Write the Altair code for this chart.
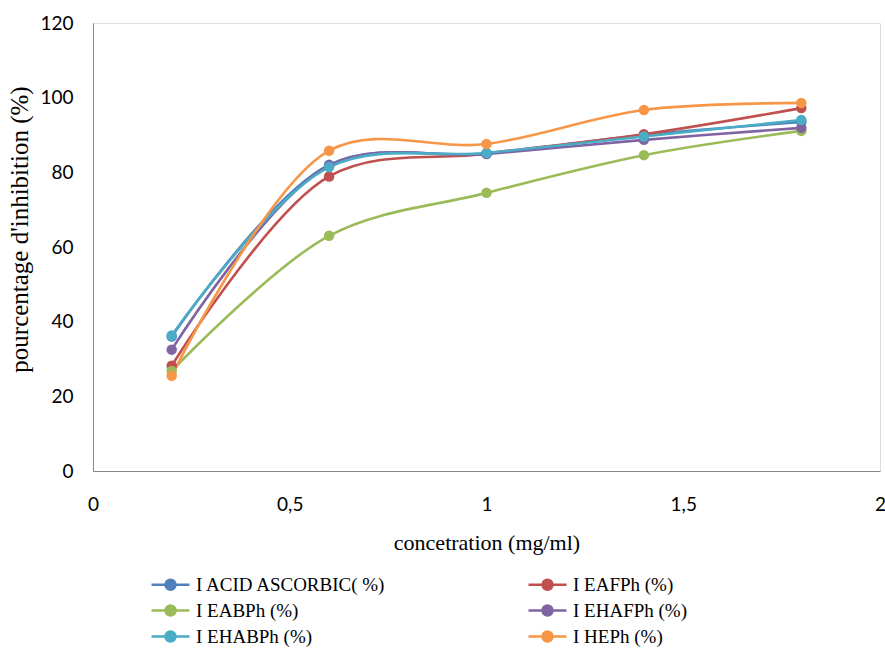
import altair as alt
import pandas as pd

conc = [0.2, 0.6, 1.0, 1.4, 1.8]
series_names = ["I ACID ASCORBIC( %)", "I EAFPh (%)", "I EABPh (%)",
                "I EHAFPh (%)", "I EHABPh (%)", "I HEPh (%)"]
ascorbic = [36.0, 82.0, 85.0, 90.0, 93.5]
eafph = [28.2, 78.9, 85.0, 90.2, 97.2]
eabph = [26.8, 63.0, 74.5, 84.6, 91.1]
ehafph = [32.5, 81.8, 84.9, 88.7, 91.9]
ehabph = [36.3, 81.4, 85.2, 89.6, 94.0]
heph = [25.5, 85.8, 87.6, 96.7, 98.6]
colors = ["#4F81BD", "#C0504D", "#9BBB59", "#8064A2", "#4BACC6", "#F79646"]

all_vals = [ascorbic, eafph, eabph, ehafph, ehabph, heph]
rows = []
for i, (name, vals) in enumerate(zip(series_names, all_vals)):
    for c, v in zip(conc, vals):
        rows.append({"conc": c, "val": v, "series": name, "order": i})
df = pd.DataFrame(rows)

sym = "M-1.9,0H1.9M-0.5,0a0.5,0.5 0 1,0 1,0a0.5,0.5 0 1,0 -1,0"

color = alt.Color("series:N", sort=series_names,
                  scale=alt.Scale(domain=series_names, range=colors),
                  legend=alt.Legend(title=None, orient="none", legendX=66, legendY=550,
                                    columns=2, direction="horizontal",
                                    symbolType=sym, symbolSize=400, symbolStrokeWidth=2.5,
                                    labelFont="Liberation Serif", labelFontSize=19,
                                    labelColor="#000", columnPadding=136, rowPadding=4,
                                    labelLimit=400, symbolOffset=0, labelOffset=14))

x = alt.X("conc:Q", title="concetration (mg/ml)",
          scale=alt.Scale(domain=[0, 2], nice=False),
          axis=alt.Axis(values=[0, 0.5, 1, 1.5, 2], grid=False, ticks=False,
                        labelExpr="replace(format(datum.value,'~g'),'.',',')",
                        labelFont="Lato", labelFontSize=19, labelColor="#000",
                        labelPadding=24, titleFont="Liberation Serif", titleFontSize=22,
                        titleFontWeight="normal", titleColor="#000", titlePadding=18,
                        domainColor="#868686", labelFlush=False))
y = alt.Y("val:Q", title="pourcentage d'inhibition (%)",
          scale=alt.Scale(domain=[0, 120], nice=False),
          axis=alt.Axis(values=[0, 20, 40, 60, 80, 100, 120], grid=False, ticks=False,
                        labelFont="Lato", labelFontSize=19, labelColor="#000",
                        labelPadding=20, titleFont="Liberation Serif", titleFontSize=25,
                        titleFontWeight="normal", titleColor="#000", titlePadding=7,
                        titleY=206, domainColor="#868686"))

base = alt.Chart(df).encode(x=x, y=y, color=color, order=alt.Order("order:Q"))
lines = base.mark_line(interpolate="catmull-rom", strokeWidth=2.6)
pts = base.mark_point(filled=True, size=110, opacity=1).encode(fill=color)

chart = alt.layer(lines, pts).properties(
    width=787, height=448,
    autosize=alt.AutoSizeParams(type="none"),
    padding={"left": 93, "top": 23, "right": 5, "bottom": 180},
).configure_view(stroke=None).configure(background="white")

chart.save("out.html", embed_options={"renderer": "svg", "actions": False})
